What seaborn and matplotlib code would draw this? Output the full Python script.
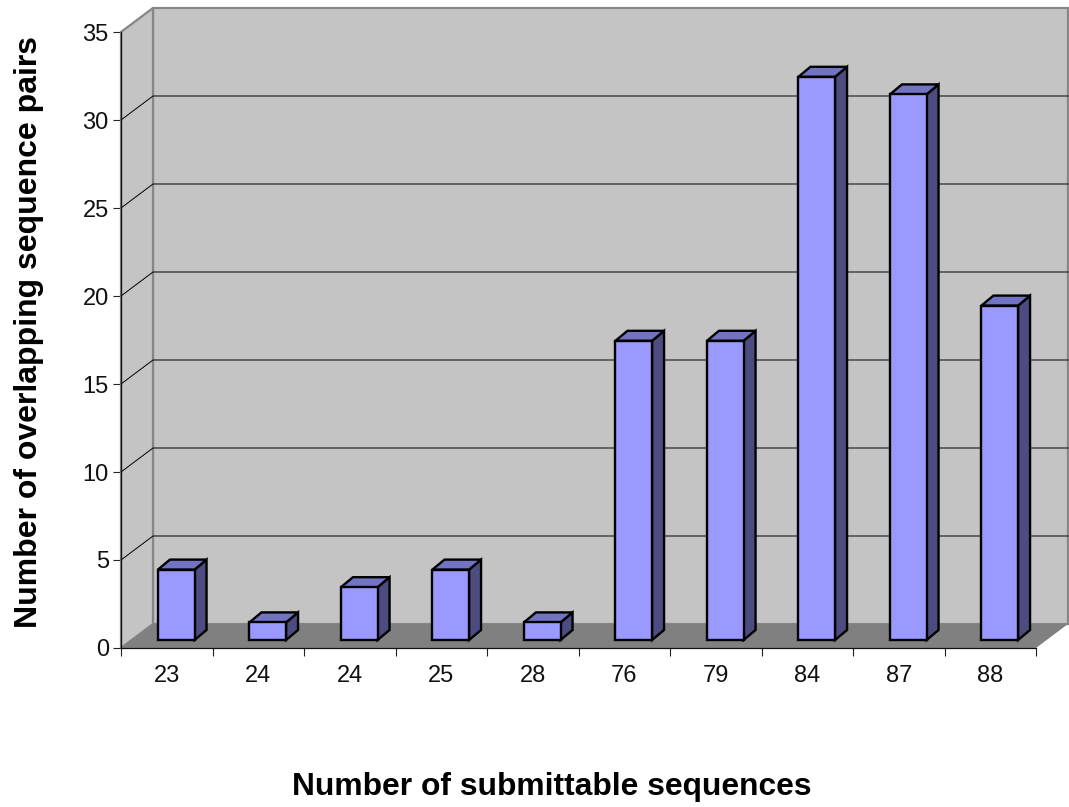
import matplotlib
matplotlib.use("Agg")
import matplotlib.pyplot as plt
import pandas as pd
import seaborn as sns
from matplotlib.patches import Polygon
from matplotlib.transforms import Affine2D, IdentityTransform

# Values
sequence_labels = ["23", "24", "24", "25", "28", "76", "79", "84", "87", "88"]
overlap_pairs = [4, 1, 3, 4, 1, 17, 17, 32, 31, 19]
y_ticks = [0, 5, 10, 15, 20, 25, 30, 35]

# Colours
BAR_FRONT = "#9999FF"
BAR_TOP = "#7373C4"
BAR_SIDE = "#4C4C80"
WALL = "#C4C4C4"
FLOOR = "#808080"
BORDER = "#868686"

# Fake 3D offsets, in pixels
WALL_DX, WALL_DY = 32, 24
BAR_DX, BAR_DY = 9.5, 8
DEPTH_DX, DEPTH_DY = 12, 10

FIG_W, FIG_H = 1069, 807
LEFT, RIGHT, TOP, BOTTOM = 121, 1036, 32, 648


def to_pixels(ax, x, y, dx=0, dy=0):
    """Data coordinates to display pixels, pushed back by dx/dy."""
    px, py = ax.transData.transform((x, y))
    return px + dx, py + dy


def add_face(ax, points, color, edge="none", lw=0, zorder=1):
    ax.add_patch(Polygon(points, closed=True, facecolor=color, edgecolor=edge, linewidth=lw,
                         transform=IdentityTransform(), clip_on=False, zorder=zorder,
                         joinstyle="miter"))


def draw_walls(ax, x0, x1, y0, y1):
    # Back wall, left wall and floor
    add_face(ax, [to_pixels(ax, x0, y0, WALL_DX, WALL_DY), to_pixels(ax, x1, y0, WALL_DX, WALL_DY),
                  to_pixels(ax, x1, y1, WALL_DX, WALL_DY), to_pixels(ax, x0, y1, WALL_DX, WALL_DY)],
             WALL, BORDER, 1.6, zorder=0.5)
    add_face(ax, [to_pixels(ax, x0, y0), to_pixels(ax, x0, y0, WALL_DX, WALL_DY),
                  to_pixels(ax, x0, y1, WALL_DX, WALL_DY), to_pixels(ax, x0, y1)],
             WALL, BORDER, 1.6, zorder=0.6)
    add_face(ax, [to_pixels(ax, x0, y0), to_pixels(ax, x1, y0),
                  to_pixels(ax, x1, y0, WALL_DX, WALL_DY), to_pixels(ax, x0, y0, WALL_DX, WALL_DY)],
             FLOOR, zorder=0.7)

    # Gridlines run along the back wall and down the left wall
    for tick in y_ticks[1:-1]:
        pts = [to_pixels(ax, x0, tick), to_pixels(ax, x0, tick, WALL_DX, WALL_DY),
               to_pixels(ax, x1, tick, WALL_DX, WALL_DY)]
        ax.plot([p[0] for p in pts], [p[1] for p in pts], color="black", lw=0.7,
                transform=IdentityTransform(), clip_on=False, zorder=0.8)


def draw_bar_depth(ax):
    shift = Affine2D().translate(BAR_DX, BAR_DY)
    for bar in ax.patches[:]:
        x0, x1 = bar.get_x(), bar.get_x() + bar.get_width()
        top = bar.get_height()
        bar.set_transform(ax.transData + shift)
        bar.set_clip_on(False)
        bar.set_zorder(3)

        dx, dy = BAR_DX + DEPTH_DX, BAR_DY + DEPTH_DY
        add_face(ax, [to_pixels(ax, x1, 0, BAR_DX, BAR_DY), to_pixels(ax, x1, 0, dx, dy),
                      to_pixels(ax, x1, top, dx, dy), to_pixels(ax, x1, top, BAR_DX, BAR_DY)],
                 BAR_SIDE, "black", 1.7, zorder=2.5)
        add_face(ax, [to_pixels(ax, x0, top, BAR_DX, BAR_DY), to_pixels(ax, x1, top, BAR_DX, BAR_DY),
                      to_pixels(ax, x1, top, dx, dy), to_pixels(ax, x0, top, dx, dy)],
                 BAR_TOP, "black", 1.7, zorder=2.5)


def main():
    sns.set_theme(style="white")
    plt.rcParams["font.family"] = ["Liberation Sans", "DejaVu Sans"]

    df = pd.DataFrame({"position": range(len(overlap_pairs)), "pairs": overlap_pairs})

    fig = plt.figure(figsize=(FIG_W / 100, FIG_H / 100), dpi=100)
    fig.patch.set_facecolor("white")
    ax = fig.add_axes([LEFT / FIG_W, 1 - BOTTOM / FIG_H, (RIGHT - LEFT) / FIG_W, (BOTTOM - TOP) / FIG_H])

    sns.barplot(data=df, x="position", y="pairs", color=BAR_FRONT, saturation=1, width=0.4,
                edgecolor="black", linewidth=1.7, ax=ax)

    x0, x1 = -0.5, len(overlap_pairs) - 0.5
    ax.set_xlim(x0, x1)
    ax.set_ylim(y_ticks[0], y_ticks[-1])
    ax.patch.set_visible(False)

    draw_bar_depth(ax)
    draw_walls(ax, x0, x1, y_ticks[0], y_ticks[-1])

    # Ticks sit on the category boundaries, labels in between
    ax.set_xticks([i - 0.5 for i in range(len(overlap_pairs) + 1)])
    ax.set_xticklabels([])
    ax.set_xticks(list(range(len(overlap_pairs))), minor=True)
    ax.set_xticklabels(sequence_labels, minor=True, fontsize=17, color="#111111")
    ax.tick_params(axis="x", which="major", length=5.8, width=0.8, color="#222222", bottom=True)
    ax.tick_params(axis="x", which="minor", length=0, pad=12.5, bottom=False)
    ax.set_yticks(y_ticks)
    ax.set_yticklabels([str(t) for t in y_ticks], fontsize=17, color="#111111")
    ax.tick_params(axis="y", length=5.8, width=0.8, color="#222222", left=True, pad=3)

    for name, spine in ax.spines.items():
        spine.set_visible(name in ("left", "bottom"))
        spine.set_color("#111111")
        spine.set_linewidth(0.9)
        spine.set_zorder(1)

    ax.set_xlabel("")
    ax.set_ylabel("")
    fig.text(552 / FIG_W, 1 - 787 / FIG_H, "Number of submittable sequences", ha="center", va="center",
             fontsize=22.9, fontweight="bold", color="black")
    fig.text(29 / FIG_W, 1 - 332 / FIG_H, "Number of overlapping sequence pairs", ha="center", va="center",
             rotation=90, fontsize=23, fontweight="bold", color="black")

    fig.savefig("out.png", dpi=100)
    plt.close(fig)


if __name__ == "__main__":
    main()
